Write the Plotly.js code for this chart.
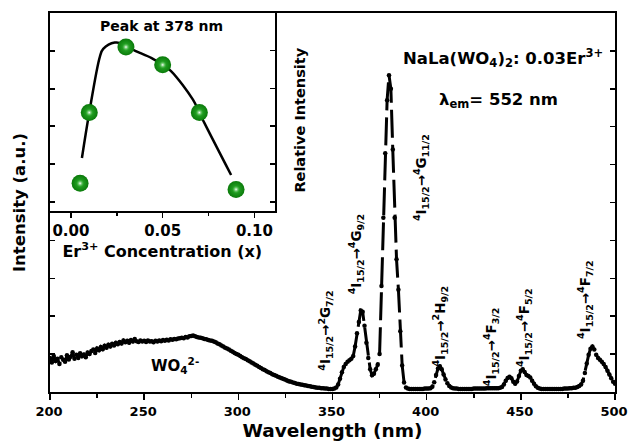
<!DOCTYPE html>
<html><head><meta charset="utf-8">
<script src="https://cdn.plot.ly/plotly-3.0.1.min.js"></script>
<style>body{margin:0;background:#fff}#chart{width:628px;height:441px}</style>
</head><body><div id="chart"></div>
<script>
// Main excitation spectrum (lambda_em = 552 nm), wavelength in nm
const wavelength = [
200,201,202,203,204,205,206,207,208,209,210,211,212,213,214,215,216,217,218,219,
220,221,222,223,224,225,226,227,228,229,230,231,232,233,234,235,236,237,238,239,
240,241,242,243,244,245,246,247,248,249,250,251,252,253,254,255,256,257,258,259,
260,261,262,263,264,265,266,267,268,269,270,271,272,273,274,275,276,277,278,279,
280,281,282,283,284,285,286,287,288,289,290,291,292,293,294,295,296,297,298,299,
300,301,302,303,304,305,306,307,308,309,310,311,312,313,314,315,316,317,318,319,
320,321,322,323,324,325,326,327,328,329,330,331,332,333,334,335,336,337,338,339,
340,341,342,343,344,345,346,347,348,349,350,351,352,353,354,355,356,357,358,359,
360,361,362,363,364,365,366,367,368,369,370,371,372,373,374,375,376,377,378,379,
380,381,382,383,384,385,386,387,388,389,390,391,392,393,394,395,396,397,398,399,
400,401,402,403,404,405,406,407,408,409,410,411,412,413,414,415,416,417,418,419,
420,421,422,423,424,425,426,427,428,429,430,431,432,433,434,435,436,437,438,439,
440,441,442,443,444,445,446,447,448,449,450,451,452,453,454,455,456,457,458,459,
460,461,462,463,464,465,466,467,468,469,470,471,472,473,474,475,476,477,478,479,
480,481,482,483,484,485,486,487,488,489,490,491,492,493,494,495,496,497,498,499,
500];
const intensity = [
0.90,0.78,0.95,0.82,0.88,0.74,0.92,0.85,0.80,0.97,
0.86,0.93,1.05,0.88,0.98,0.90,1.02,0.94,0.99,0.92,
1.04,1.00,1.08,1.12,1.03,1.15,1.10,1.19,1.13,1.22,
1.17,1.25,1.20,1.27,1.23,1.30,1.26,1.32,1.28,1.36,
1.31,1.35,1.30,1.37,1.33,1.40,1.34,1.32,1.36,1.33,
1.35,1.32,1.36,1.33,1.34,1.31,1.35,1.33,1.36,1.34,
1.37,1.35,1.38,1.36,1.39,1.38,1.40,1.39,1.41,1.42,
1.43,1.42,1.45,1.44,1.47,1.48,1.49,1.47,1.45,1.44,
1.43,1.42,1.40,1.39,1.37,1.36,1.35,1.33,1.31,1.28,
1.26,1.23,1.20,1.17,1.15,1.12,1.09,1.06,1.03,1.00,
0.98,0.95,0.92,0.89,0.87,0.84,0.81,0.78,0.75,0.72,
0.69,0.66,0.63,0.60,0.58,0.55,0.52,0.50,0.47,0.45,
0.43,0.40,0.38,0.36,0.34,0.32,0.30,0.28,0.27,0.25,
0.24,0.22,0.21,0.20,0.19,0.18,0.17,0.16,0.15,0.14,
0.13,0.12,0.11,0.11,0.10,0.10,0.09,0.09,0.08,0.08,
0.08,0.09,0.12,0.20,0.35,0.52,0.66,0.74,0.80,0.84,
0.88,0.95,1.20,1.55,1.85,2.15,2.12,1.75,1.30,0.90,
0.60,0.44,0.48,0.60,0.72,1.00,2.80,4.60,6.30,7.70,
8.36,8.00,6.40,4.60,3.50,2.70,1.60,0.70,0.25,0.12,
0.09,0.08,0.08,0.08,0.08,0.08,0.08,0.08,0.08,0.09,
0.09,0.09,0.10,0.14,0.26,0.45,0.62,0.68,0.60,0.46,
0.33,0.23,0.16,0.12,0.10,0.09,0.09,0.08,0.08,0.08,
0.08,0.08,0.08,0.08,0.08,0.09,0.09,0.09,0.09,0.09,
0.09,0.09,0.10,0.10,0.10,0.10,0.10,0.10,0.10,0.11,
0.13,0.20,0.30,0.37,0.40,0.36,0.27,0.22,0.28,0.42,
0.56,0.60,0.53,0.45,0.42,0.38,0.30,0.22,0.15,0.11,
0.09,0.08,0.08,0.08,0.08,0.08,0.08,0.08,0.08,0.08,
0.08,0.08,0.08,0.09,0.09,0.09,0.10,0.10,0.11,0.11,
0.13,0.16,0.20,0.30,0.50,0.75,0.98,1.14,1.20,1.12,
0.98,0.90,0.85,0.80,0.74,0.66,0.56,0.46,0.36,0.27,
0.22];

// Inset: peak (378 nm) intensity vs Er3+ concentration
const erConc = [0.005, 0.01, 0.03, 0.05, 0.07, 0.09];
const peakIntensity = [0.49, 2.36, 4.09, 3.62, 2.36, 0.33];
const fitConc = [0.006, 0.010, 0.0158, 0.0176, 0.0239, 0.030, 0.033, 0.044, 0.050, 0.0547, 0.0665, 0.070, 0.0728, 0.0873];
const fitIntensity = [1.16, 2.36, 3.84, 4.04, 4.21, 4.15, 4.04, 3.80, 3.62, 3.45, 2.70, 2.36, 2.08, 0.71];

const insetTickVals = [0, 0.05, 0.10];
const insetTickText = ['0.00', '0.05', '0.10'];

const transitionLabels = [
  '<sup>4</sup>I<sub>15/2</sub>\u2192<sup>2</sup>G<sub>7/2</sub>',
  '<sup>4</sup>I<sub>15/2</sub>\u2192<sup>4</sup>G<sub>9/2</sub>',
  '<sup>4</sup>I<sub>15/2</sub>\u2192<sup>4</sup>G<sub>11/2</sub>',
  '<sup>4</sup>I<sub>15/2</sub>\u2192<sup>2</sup>H<sub>9/2</sub>',
  '<sup>4</sup>I<sub>15/2</sub>\u2192<sup>4</sup>F<sub>3/2</sub>',
  '<sup>4</sup>I<sub>15/2</sub>\u2192<sup>4</sup>F<sub>5/2</sub>',
  '<sup>4</sup>I<sub>15/2</sub>\u2192<sup>4</sup>F<sub>7/2</sub>'
];

const H = 'DejaVu Sans';
const labelPos = [[0.488,0.161],[0.542,0.364],[0.657,0.565],[0.691,0.174],[0.781,0.119],[0.839,0.169],[0.947,0.243]];

const traces = [
  {x: wavelength, y: intensity, type: 'scatter', mode: 'lines+markers',
   line: {color: '#000', width: 3, dash: '28px,7px'},
   marker: {color: '#000', size: 4.5}, xaxis: 'x', yaxis: 'y', hoverinfo: 'skip'},
  {x: fitConc, y: fitIntensity, type: 'scatter', mode: 'lines',
   line: {color: '#000', width: 2.5, shape: 'spline'}, xaxis: 'x2', yaxis: 'y2'},
  {x: erConc, y: peakIntensity, type: 'scatter', mode: 'markers',
   marker: {color: '#0a7a0a', size: 17, line: {width: 0},
            gradient: {type: 'radial', color: '#2fb32f'}},
   xaxis: 'x2', yaxis: 'y2'},
  {x: erConc, y: peakIntensity, type: 'scatter', mode: 'markers',
   marker: {color: 'rgba(47,179,47,0)', size: 8, line: {width: 0},
            gradient: {type: 'radial', color: '#ffffff'}},
   xaxis: 'x2', yaxis: 'y2'}
];

const annotations = [
  {text: 'NaLa(WO<sub>4</sub>)<sub>2</sub>: 0.03Er<sup>3+</sup>', x: 0.802, y: 0.881,
   font: {family: H, size: 16.5, weight: 'bold', color: '#000'}},
  {text: '\u03bb<sub>em</sub>= 552 nm', x: 0.793, y: 0.770,
   font: {family: H, size: 16.5, weight: 'bold', color: '#000'}},
  {text: 'Peak at 378 nm', x: 0.197, y: 0.966,
   font: {family: H, size: 14, weight: 'bold', color: '#000'}},
  {text: 'Relative Intensity', x: 0.442, y: 0.718, textangle: -90,
   font: {family: H, size: 14.5, weight: 'bold', color: '#000'}},
  {text: 'WO<sub>4</sub><sup>2-</sup>', x: 0.221, y: 0.069,
   font: {family: H, size: 15, weight: 'bold', color: '#000'}}
].concat(transitionLabels.map((t, i) => ({
  text: t, x: labelPos[i][0], y: labelPos[i][1], textangle: -90,
  font: {family: H, size: 13.5, weight: 'bold', color: '#000'}
}))).map(a => Object.assign({xref: 'paper', yref: 'paper', showarrow: false,
  xanchor: 'center', yanchor: 'middle'}, a));

const layout = {
  width: 628, height: 441,
  margin: {l: 50, r: 13, t: 13, b: 49},
  paper_bgcolor: '#fff', plot_bgcolor: 'rgba(0,0,0,0)',
  showlegend: false,
  font: {family: H, color: '#000'},
  xaxis: {domain: [0, 1], range: [200, 500], tick0: 200, dtick: 50,
    ticks: 'outside', ticklen: 6, tickwidth: 1.5, tickcolor: '#000',
    ticklabeloverflow: 'allow', ticklabelshift: -1,
    minor: {dtick: 25, tick0: 200, ticks: 'outside', ticklen: 4, tickwidth: 1.5, tickcolor: '#000'},
    showline: true, linewidth: 2, linecolor: '#000', mirror: true,
    showgrid: false, zeroline: false,
    tickfont: {family: H, size: 13, weight: 'bold'},
    title: {text: 'Wavelength (nm)', font: {family: H, size: 18.5, weight: 'bold'}, standoff: 6}},
  yaxis: {domain: [0, 1], range: [0, 10], dtick: 1,
    ticks: 'inside', ticklen: 5, tickwidth: 1.5, tickcolor: '#000',
    showline: true, linewidth: 2, linecolor: '#000', mirror: 'ticks',
    showgrid: false, zeroline: false, showticklabels: false,
    title: {text: 'Intensity (a.u.)', font: {family: H, size: 16.5, weight: 'bold'}, standoff: 18}},
  xaxis2: {domain: [0, 0.3975], anchor: 'y2', range: [-0.0114, 0.111],
    tickvals: insetTickVals, ticktext: insetTickText,
    ticks: 'outside', ticklen: 5, tickwidth: 1.5, tickcolor: '#000',
    minor: {dtick: 0.025, tick0: 0, ticks: 'outside', ticklen: 3, tickwidth: 1.5, tickcolor: '#000'},
    showline: true, linewidth: 2, linecolor: '#000', mirror: true,
    showgrid: false, zeroline: false,
    tickfont: {family: H, size: 15, weight: 'bold'},
    title: {text: 'Er<sup>3+</sup> Concentration (x)', font: {family: H, size: 16, weight: 'bold'}, standoff: 4}},
  yaxis2: {domain: [0.4776, 1], anchor: 'x2', range: [-0.24, 4.99], dtick: 1,
    ticks: 'inside', ticklen: 5, tickwidth: 1.5, tickcolor: '#000',
    showline: true, linewidth: 2, linecolor: '#000', mirror: 'ticks',
    showgrid: false, zeroline: false, showticklabels: false},
  annotations: annotations
};

Plotly.newPlot('chart', traces, layout, {staticPlot: true, displayModeBar: false});
</script></body></html>
